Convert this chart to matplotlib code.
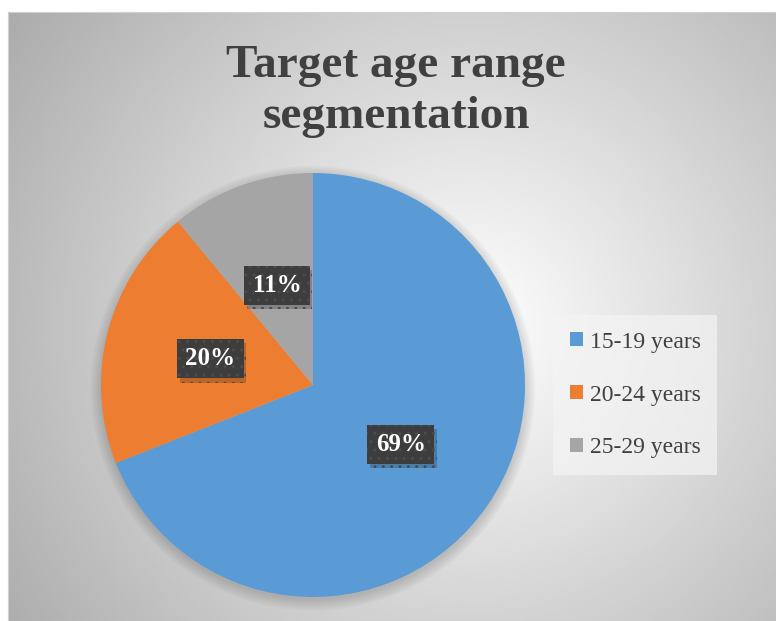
import numpy as np
import matplotlib.pyplot as plt
import matplotlib.patheffects as pe
from matplotlib.patches import Circle

# Data
labels = ['15-19 years', '20-24 years', '25-29 years']
shares = [69, 20, 11]
colors = ['#5B9BD5', '#ED7D31', '#A5A5A5']

plt.rcParams['font.family'] = ['Liberation Serif', 'DejaVu Serif']

W, H = 776, 621
fig = plt.figure(figsize=(W / 100, H / 100), dpi=100)

# Chart area with radial gradient background
bg = fig.add_axes([8 / W, 0, 1 - 8 / W, 1 - 12 / H])
yy, xx = np.mgrid[0:1:300j, 0:1:400j]
r = np.hypot((xx - 0.6) * 1.25, (yy - 0.48))
shade = np.clip(1.0 - 0.36 * r, 0, 1)
bg.imshow(shade, cmap='gray', vmin=0, vmax=1, extent=[0, 1, 0, 1],
          aspect='auto', origin='lower', interpolation='bilinear')
bg.set_xticks([])
bg.set_yticks([])
for s in bg.spines.values():
    s.set_color('#d0d0d0')

# Title
fig.text(396 / W, 1 - 45 / H, 'Target age range\nsegmentation', ha='center', va='top',
         fontsize=34, fontweight='bold', color='#404040', linespacing=1.28)

# Pie
cx, cy, rad = 313, 385, 212
ax = fig.add_axes([(cx - rad) / W, (H - cy - rad) / H, 2 * rad / W, 2 * rad / H])
ax.set_facecolor('none')

# soft shadow under the pie
for i in range(8):
    ax.add_patch(Circle((0.0, -0.015), 1.0 + 0.007 * i, color='black',
                        alpha=0.02, lw=0, zorder=0, clip_on=False))

wedges, texts, autotexts = ax.pie(
    shares, colors=colors, startangle=90, counterclock=False,
    autopct='%d%%', pctdistance=0.5, radius=1,
    wedgeprops=dict(linewidth=0),
    textprops=dict(fontsize=18, fontweight='bold', color='white'))

for t in autotexts:
    t.set_bbox(dict(boxstyle='square,pad=0.33', fc='#3d3d3d', ec='#4c4c4c',
                    lw=0, hatch='..'))
    t.get_bbox_patch().set_path_effects(
        [pe.SimplePatchShadow(offset=(2, -3), shadow_rgbFace='#000000', alpha=0.2),
         pe.Normal()])

ax.set_xlim(-1.05, 1.05)
ax.set_ylim(-1.05, 1.05)
ax.set_aspect('auto')
ax.set_position([(cx - rad * 1.05) / W, (H - cy - rad * 1.05) / H,
                 2 * rad * 1.05 / W, 2 * rad * 1.05 / H])
ax.axis('off')

# Legend
leg = fig.legend(wedges, labels, loc='center left',
                 bbox_to_anchor=(553 / W, (H - 395) / H),
                 fontsize=17, frameon=True, fancybox=False,
                 handlelength=0.55, handleheight=0.55, handletextpad=0.3,
                 labelspacing=1.35, borderpad=0.7, borderaxespad=0)
leg.get_frame().set_facecolor('#f4f4f4')
leg.get_frame().set_edgecolor('none')
leg.get_frame().set_alpha(0.7)
for txt in leg.get_texts():
    txt.set_color('#404040')

fig.savefig('out.png', dpi=100)
